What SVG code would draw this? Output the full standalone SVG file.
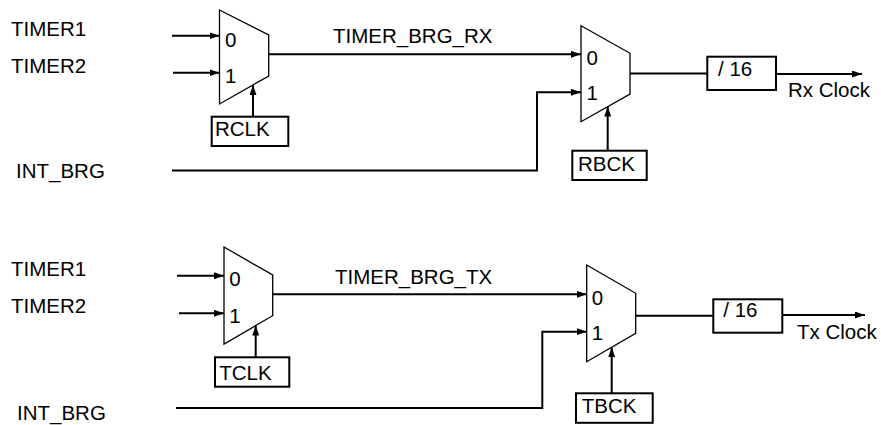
<svg xmlns="http://www.w3.org/2000/svg" width="881" height="425" viewBox="0 0 881 425">
<defs>
<marker id="ah" markerUnits="userSpaceOnUse" markerWidth="11" markerHeight="8" refX="10" refY="3.5" orient="auto">
<path d="M0,0 L10,3.5 L0,7 z" fill="#000"/>
</marker>
<style>
text{font-family:"Liberation Sans",Arial,sans-serif;font-size:20.5px;fill:#000}
.mux{fill:#fff;stroke:#000;stroke-width:1.3}
.box{fill:#fff;stroke:#000;stroke-width:2}
.w{fill:none;stroke:#000;stroke-width:2}
.a{marker-end:url(#ah)}
</style>
</defs>
<rect width="881" height="425" fill="#fff"/>
<g id="labels">
<text x="11" y="36">TIMER1</text>
<text x="11" y="73">TIMER2</text>
<text x="16" y="178">INT_BRG</text>
<text x="333" y="43">TIMER_BRG_RX</text>
<text x="788" y="97">Rx Clock</text>
<text x="11" y="276">TIMER1</text>
<text x="11" y="313">TIMER2</text>
<text x="17" y="420">INT_BRG</text>
<text x="335" y="284">TIMER_BRG_TX</text>
<text x="797" y="339">Tx Clock</text>
</g>
<g id="connectors">
<path class="w a" d="M172,35.7 H219.5"/>
<path class="w a" d="M173,72.7 H219.5"/>
<path class="w a" d="M268.7,54.3 H581"/>
<path class="w a" d="M172,170.5 H537 V92.3 H581"/>
<path class="w a" d="M253,116.7 V85"/>
<path class="w a" d="M607.7,150.7 V106.6"/>
<path class="w" d="M630,73.5 H707.3"/>
<path class="w a" d="M776,74 H862"/>
<path class="w a" d="M177,275.7 H224"/>
<path class="w a" d="M179,313.3 H224"/>
<path class="w a" d="M272.7,294.3 H586.7"/>
<path class="w a" d="M176,408 H542.3 V331.7 H586.7"/>
<path class="w a" d="M255.7,357.3 V325.6"/>
<path class="w a" d="M611.7,393.3 V347.2"/>
<path class="w" d="M635.7,315.7 H713.3"/>
<path class="w a" d="M782.3,315 H865"/>
</g>
<g id="mux_rclk">
<polygon class="mux" points="219.5,10 268.7,35 268.7,76 219.5,104"/>
<text x="225" y="46.5">0</text>
<text x="225" y="83">1</text>
</g>
<g id="rclk">
<rect class="box" x="211.7" y="116.7" width="76.6" height="29.3"/>
<text x="215" y="136">RCLK</text>
</g>
<g id="mux_rbck">
<polygon class="mux" points="581,25.7 630,53.3 630,94 581,121.7"/>
<text x="586.5" y="65">0</text>
<text x="586.5" y="99.5">1</text>
</g>
<g id="rbck">
<rect class="box" x="572.3" y="150.7" width="74.4" height="29.3"/>
<text x="578" y="170.5">RBCK</text>
</g>
<g id="div_rx">
<rect class="box" x="707.3" y="56.7" width="68.7" height="33.3"/>
<text x="718" y="76">/ 16</text>
</g>
<g id="mux_tclk">
<polygon class="mux" points="224,247 272.7,275 272.7,315.7 224,344"/>
<text x="229.3" y="286">0</text>
<text x="229.3" y="322.7">1</text>
</g>
<g id="tclk">
<rect class="box" x="215" y="357.3" width="74.3" height="29.4"/>
<text x="219.3" y="380">TCLK</text>
</g>
<g id="mux_tbck">
<polygon class="mux" points="586.7,265 635.7,293.3 635.7,333.3 586.7,361.7"/>
<text x="591.7" y="305">0</text>
<text x="591.7" y="340">1</text>
</g>
<g id="tbck">
<rect class="box" x="576" y="393.3" width="76.7" height="29.5"/>
<text x="581.7" y="413.3">TBCK</text>
</g>
<g id="div_tx">
<rect class="box" x="713.3" y="299.3" width="69" height="33.4"/>
<text x="723.3" y="316.7">/ 16</text>
</g>
</svg>
